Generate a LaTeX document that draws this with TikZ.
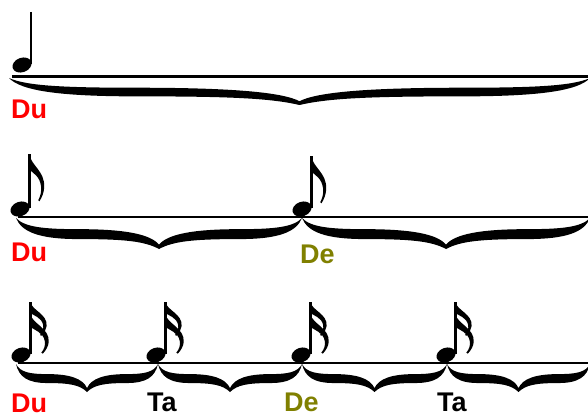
\documentclass[tikz,border=0pt]{standalone}
\usepackage{fontspec}
\setmainfont{Liberation Sans}
\definecolor{olivede}{RGB}{128,128,0}
\tikzset{
  lbl/.style={anchor=base west, inner sep=0pt, font=\fontsize{27}{27}\selectfont\bfseries},
  staffline/.style={line width=2pt},
  stemline/.style={line width=2.2pt},
}
\newcommand\brc[4]{% x0 x1 y0 depth
  \pgfmathsetmacro\brW{#2-#1}
  \begin{scope}[shift={(#1,#3)}, x=\brW pt, y=-#4pt]
    \fill (0,0) .. controls (0.03,0.3) and (0.1,0.36) .. (0.22,0.36)
      .. controls (0.38,0.36) and (0.47,0.52) .. (0.5,0.86)
      .. controls (0.53,0.52) and (0.62,0.36) .. (0.78,0.36)
      .. controls (0.9,0.36) and (0.97,0.3) .. (1,0)
      .. controls (0.98,0.45) and (0.92,0.68) .. (0.78,0.68)
      .. controls (0.62,0.68) and (0.55,0.75) .. (0.5,1)
      .. controls (0.45,0.75) and (0.38,0.68) .. (0.22,0.68)
      .. controls (0.08,0.68) and (0.02,0.45) .. (0,0) -- cycle;
  \end{scope}}
\newcommand\flg[4]{% sx st xscale yscale
  \begin{scope}[shift={(#1,#2)}, xscale=#3, yscale=#4]
    \fill (0,0) .. controls (1,11) and (15,16) .. (14,32)
      .. controls (13.6,37) and (12,41) .. (9.5,45) -- (8.3,44)
      .. controls (10.5,40) and (11.5,36) .. (11,31)
      .. controls (10,21) and (3,18) .. (0,15) -- cycle;
  \end{scope}}
\newcommand\hd[2]{\fill[rotate around={20:(#1,#2)}] (#1,#2) ellipse (9.8 and 7.2);}
\begin{document}
\begin{tikzpicture}[x=1pt,y=-1pt]
\clip (0,0) rectangle (588,417);
\fill[white] (0,0) rectangle (588,417);
% row 1
\hd{22}{65}
\draw[stemline] (31,12) -- (31,64);
\draw[line width=3pt] (12,76.5) -- (590,76.5);
\brc{9}{590}{78}{27}
\node[lbl, text=red] (du1) at (11,118) {Du};
% row 2
\hd{20}{209}
\hd{302}{209}
\draw[stemline] (29.5,154) -- (29.5,208);
\draw[stemline] (311.5,156) -- (311.5,208);
\flg{29.5}{154}{1.05}{1.05}
\flg{311.5}{156}{1.05}{1.05}
\draw[staffline] (18,217) -- (590,217);
\brc{16}{302}{218}{31}
\brc{302}{590}{218}{31}
\node[lbl, text=red] (du2) at (11,261) {Du};
\node[lbl, text=olivede] (de2) at (300,263) {De};
% row 3
\foreach \hx in {21,156,301,446}{
  \hd{\hx}{355}
  \draw[stemline] (\hx+9.5,302) -- (\hx+9.5,354);
  \flg{\hx+9.5}{302}{1.15}{0.75}
  \flg{\hx+9.5}{314}{1.3}{0.88}
}
\draw[staffline] (18,363) -- (590,363);
\brc{16}{158}{364}{28}
\brc{158}{302}{364}{28}
\brc{302}{447}{364}{28}
\brc{447}{590}{364}{28}
\node[lbl, text=red] (du3) at (11,412) {Du};
\node[lbl] (ta3a) at (147,411) {Ta};
\node[lbl, text=olivede] (de3) at (284,411) {De};
\node[lbl] (ta3b) at (437,411) {Ta};
\end{tikzpicture}
\end{document}
